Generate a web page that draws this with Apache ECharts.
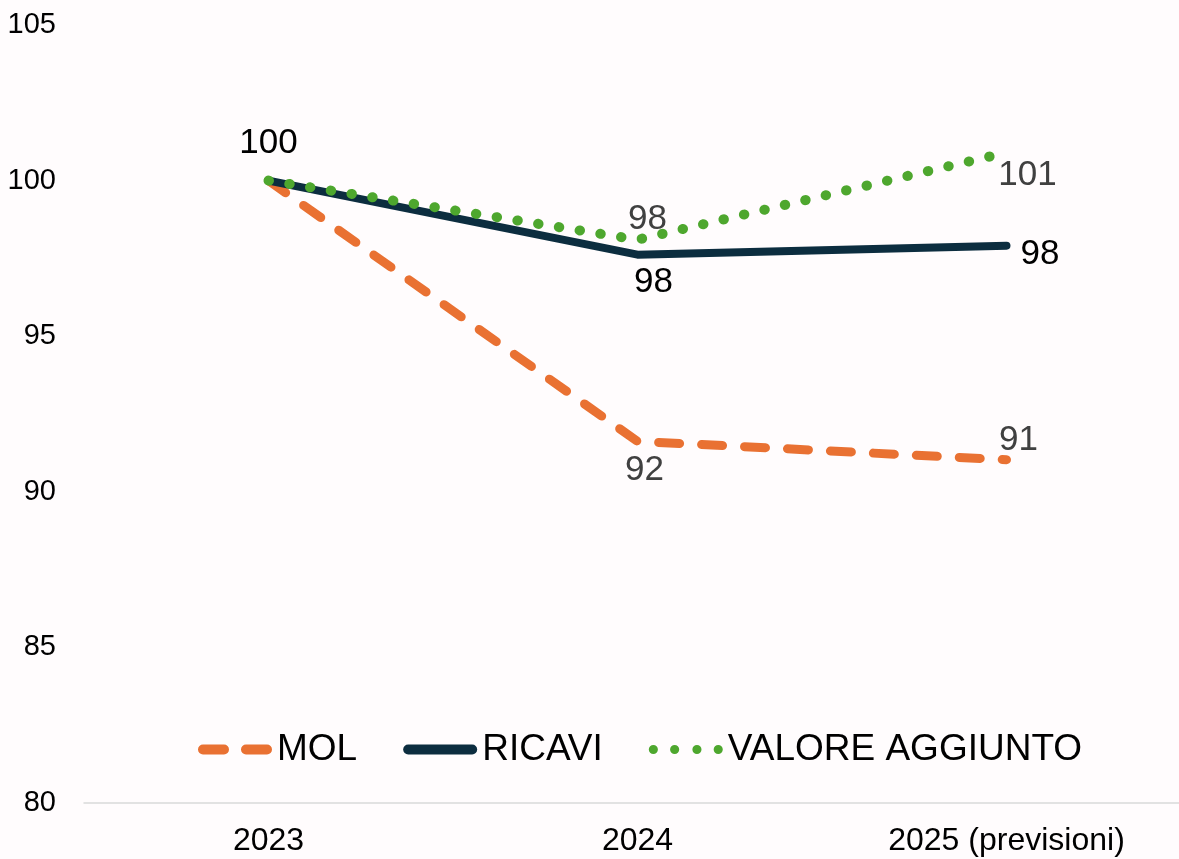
<!DOCTYPE html>
<html>
<head>
<meta charset="utf-8">
<script src="https://cdn.jsdelivr.net/npm/echarts@6/dist/echarts.min.js"></script>
<style>
  html, body { margin: 0; padding: 0; background: #fffcfd; }
  #chart { width: 1179px; height: 859px; }
</style>
</head>
<body>
<div id="chart"></div>
<script>
const categories = ['2023', '2024', '2025 (previsioni)']
const mol = [100, 91.62, 91.03]
const ricavi = [100, 97.62, 97.91]
const valoreAggiunto = [100, 98.1, 100.9]
const yTicks = [80, 85, 90, 95, 100, 105]

const FONT = 'Liberation Sans, Arial, sans-serif'

// legend icons drawn like the office ones (thick dashes / bar / dots)
const ICON_MOL = 'path://M5,0 H26 A5,5 0 0 1 26,10 H5 A5,5 0 0 1 5,0 Z M48,0 H69 A5,5 0 0 1 69,10 H48 A5,5 0 0 1 48,0 Z'
const ICON_RICAVI = 'path://M5,0 H69 A5,5 0 0 1 69,10 H5 A5,5 0 0 1 5,0 Z'
const ICON_VA = 'path://M0.5,5 A4.5,4.5 0 1 1 9.5,5 A4.5,4.5 0 1 1 0.5,5 Z M21.5,5 A4.5,4.5 0 1 1 30.5,5 A4.5,4.5 0 1 1 21.5,5 Z M43.5,5 A4.5,4.5 0 1 1 52.5,5 A4.5,4.5 0 1 1 43.5,5 Z M64.5,5 A4.5,4.5 0 1 1 73.5,5 A4.5,4.5 0 1 1 64.5,5 Z'

// per-point label placement, like the manually moved labels of the original
function pts(values, labels) {
  return values.map((v, i) => {
    const l = labels[i]
    if (!l) return { value: v, label: { show: false } }
    return { value: v, label: Object.assign({ show: true }, l) }
  })
}

let myChart = echarts.init(document.getElementById('chart'))
let options = {
  backgroundColor: '#fffcfd',
  animation: false,
  grid: { left: 84, top: 25, width: 1107, bottom: 56, containLabel: false, outerBoundsMode: 'none' },
  legend: {
    left: 193,
    top: 726,
    itemWidth: 74,
    itemHeight: 10,
    itemGap: 46,
    textStyle: { fontFamily: FONT, fontSize: 37, color: '#000' },
    data: [
      { name: 'MOL', icon: ICON_MOL },
      { name: 'RICAVI', icon: ICON_RICAVI },
      { name: 'VALORE AGGIUNTO', icon: ICON_VA }
    ]
  },
  xAxis: {
    type: 'category',
    data: categories,
    axisLine: { lineStyle: { color: '#d9d9d9', width: 1.5 } },
    axisTick: { show: false },
    axisLabel: { fontFamily: FONT, fontSize: 32, color: '#000', margin: 22 }
  },
  yAxis: {
    type: 'value',
    min: yTicks[0],
    max: yTicks[yTicks.length - 1],
    interval: 5,
    splitLine: { show: false },
    axisLine: { show: false },
    axisTick: { show: false },
    axisLabel: { fontFamily: FONT, fontSize: 29, color: '#000', margin: 28 }
  },
  series: [
    {
      name: 'MOL',
      type: 'line',
      symbol: 'circle',
      symbolSize: 0,
      showSymbol: true,
      z: 2,
      lineStyle: { color: '#e97132', width: 9, type: [21, 22], cap: 'round', join: 'round' },
      itemStyle: { color: '#e97132' },
      label: { fontFamily: FONT, fontSize: 35, color: '#404040', formatter: p => Math.round(p.value) },
      data: pts(mol, [null, { position: 'bottom', distance: 11, offset: [7, 0] }, { position: 'top', distance: 2, offset: [12, 0] }])
    },
    {
      name: 'RICAVI',
      type: 'line',
      symbol: 'circle',
      symbolSize: 0,
      showSymbol: true,
      z: 3,
      lineStyle: { color: '#0c2d3f', width: 8, cap: 'round', join: 'round' },
      itemStyle: { color: '#0c2d3f' },
      label: { fontFamily: FONT, fontSize: 35, color: '#000', formatter: p => Math.round(p.value) },
      data: pts(ricavi, [{ position: 'top', distance: 20 }, { position: 'bottom', distance: 10, offset: [16, 0] }, { position: 'right', distance: 14, offset: [0, 9] }])
    },
    {
      name: 'VALORE AGGIUNTO',
      type: 'line',
      symbol: 'circle',
      symbolSize: 0,
      showSymbol: true,
      z: 4,
      lineStyle: { color: '#4ea72e', width: 10, type: [0.5, 20.5], cap: 'round', join: 'round' },
      itemStyle: { color: '#4ea72e' },
      label: { fontFamily: FONT, fontSize: 35, color: '#404040', formatter: p => Math.round(p.value) },
      data: pts(valoreAggiunto, [null, { position: 'top', distance: 3, offset: [10, 0] }, { position: 'bottom', distance: 5, offset: [21, 0] }])
    }
  ]
}
myChart.setOption(options)
</script>
</body>
</html>
